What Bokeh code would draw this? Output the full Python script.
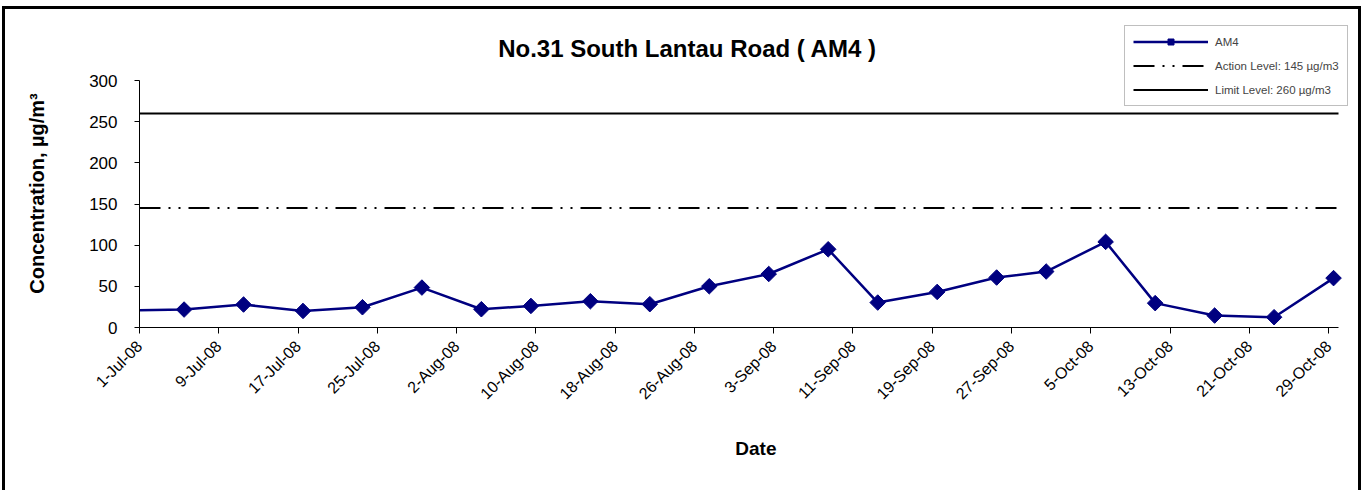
import math
import pandas as pd
from bokeh.plotting import figure
from bokeh.models import (Legend, LegendItem, Label, FixedTicker, Range1d,
                          ColumnDataSource)
from bokeh.embed import file_html
from bokeh.resources import INLINE

# ---------------- data ----------------
title_text = "No.31 South Lantau Road ( AM4 )"
y_label = "Concentration, µg/m³"
x_label = "Date"

sample_dates = ["29-Jun-08", "5-Jul-08", "11-Jul-08", "17-Jul-08", "23-Jul-08",
                "29-Jul-08", "4-Aug-08", "9-Aug-08", "15-Aug-08", "21-Aug-08",
                "27-Aug-08", "2-Sep-08", "8-Sep-08", "13-Sep-08", "19-Sep-08",
                "25-Sep-08", "30-Sep-08", "6-Oct-08", "11-Oct-08", "17-Oct-08",
                "23-Oct-08", "29-Oct-08"]
am4_values = [20.7, 21.8, 27.9, 20.1, 24.6, 48.5, 22.2, 26.2, 31.9, 28.3,
              50.1, 65.0, 95.0, 30.3, 43.2, 60.7, 68.0, 104.0, 29.6, 14.5,
              12.5, 60.0]

action_level = 145
limit_level = 260
series_names = ["AM4", "Action Level: 145 µg/m3", "Limit Level: 260 µg/m3"]

axis_start = "1-Jul-08"
axis_end = "30-Oct-08"
tick_labels = ["1-Jul-08", "9-Jul-08", "17-Jul-08", "25-Jul-08", "2-Aug-08",
               "10-Aug-08", "18-Aug-08", "26-Aug-08", "3-Sep-08", "11-Sep-08",
               "19-Sep-08", "27-Sep-08", "5-Oct-08", "13-Oct-08", "21-Oct-08",
               "29-Oct-08"]
y_ticks = [0, 50, 100, 150, 200, 250, 300]
y_max = 300

# ---------------- helpers ----------------
FMT = "%d-%b-%y"
t0 = pd.to_datetime(axis_start, format=FMT)


def day_of(s):
    return float((pd.to_datetime(s, format=FMT) - t0).days)


x_end = day_of(axis_end)
# points are plotted in the middle of their day (Excel date axis)
xs = [day_of(d) + 0.5 for d in sample_dates]
tick_pos = [day_of(d) for d in tick_labels]

FONT = "Liberation Sans"
NAVY = "#000080"
NBSP = "\u00a0"

# ---------------- layout (pixels) ----------------
W, H = 1366, 490
AX_L, AX_R = 139, 1338      # drawn x-axis extent
AX_T, AX_B = 80, 327        # drawn y-axis extent
FR_T, FR_R = 20, 1356       # frame extends further so the legend/title fit
x_max = x_end * (FR_R - AX_L) / (AX_R - AX_L)
y_top = y_max * (AX_B - FR_T) / (AX_B - AX_T)

p = figure(width=W, height=H, output_backend="svg", toolbar_location=None,
           x_range=Range1d(0, x_max), y_range=Range1d(0, y_top),
           min_border_left=AX_L, min_border_right=W - FR_R,
           min_border_top=FR_T, min_border_bottom=H - AX_B,
           background_fill_color="white", border_fill_color=None)
p.title.visible = False
p.outline_line_color = None
p.xgrid.visible = False
p.ygrid.visible = False
# outer chart border: top, left and right edges (bottom lies below the window)
p.styles = {"box-shadow": ", ".join([
    "inset 0 6px 0 0 white", "inset 2px 0 0 0 white", "inset -5px 0 0 0 white",
    "inset 0 9px 0 0 black", "inset 5px 0 0 0 black", "inset -8px 0 0 0 black"])}

# axes
p.xaxis.ticker = FixedTicker(ticks=tick_pos)
p.xaxis.bounds = (0, x_end)
p.xaxis.major_label_overrides = {t: lab for t, lab in zip(tick_pos, tick_labels)}
p.xaxis.major_label_orientation = math.pi / 4
p.xaxis.major_label_text_font = FONT
p.xaxis.major_label_text_font_size = "16px"
p.xaxis.major_label_text_color = "black"
p.xaxis.major_label_standoff = 10
p.xaxis.major_tick_in = 0
p.xaxis.major_tick_out = 6
p.xaxis.minor_tick_line_color = None
p.xaxis.axis_line_color = "black"
p.xaxis.major_tick_line_color = "black"
p.xaxis.axis_label = NBSP * 3 + x_label
p.xaxis.axis_label_text_font = FONT
p.xaxis.axis_label_text_font_style = "bold"
p.xaxis.axis_label_text_font_size = "19px"
p.xaxis.axis_label_text_color = "black"
p.xaxis.axis_label_standoff = 27

p.yaxis.ticker = FixedTicker(ticks=y_ticks)
p.yaxis.bounds = (0, y_max)
p.yaxis.major_label_text_font = FONT
p.yaxis.major_label_text_font_size = "17px"
p.yaxis.major_label_text_color = "black"
p.yaxis.major_label_standoff = 17
p.yaxis.major_tick_in = 0
p.yaxis.major_tick_out = 5
p.yaxis.minor_tick_line_color = None
p.yaxis.axis_line_color = "black"
p.yaxis.major_tick_line_color = "black"
p.yaxis.axis_label = y_label + NBSP * 7
p.yaxis.axis_label_text_font = FONT
p.yaxis.axis_label_text_font_style = "bold"
p.yaxis.axis_label_text_font_size = "20px"
p.yaxis.axis_label_text_color = "black"
p.yaxis.axis_label_standoff = 38

# series
src = ColumnDataSource(dict(x=xs, y=am4_values))
r_action = p.line([0, x_end], [action_level, action_level], line_color="black",
                  line_width=2, line_dash="21 8 2 8 2 8")
r_limit = p.line([0, x_end], [limit_level, limit_level], line_color="black",
                 line_width=2)
r_line = p.line("x", "y", source=src, line_color=NAVY, line_width=2.5)
r_pts = p.scatter("x", "y", source=src, marker="square", angle=math.pi / 4,
                  size=11, fill_color=NAVY, line_color=NAVY)

legend = Legend(items=[LegendItem(label=series_names[0], renderers=[r_line, r_pts]),
                       LegendItem(label=series_names[1], renderers=[r_action]),
                       LegendItem(label=series_names[2], renderers=[r_limit])],
                location=(985, 221), orientation="vertical",
                label_text_font=FONT, label_text_font_size="11.5px",
                glyph_width=75, glyph_height=15, label_height=15,
                label_standoff=7, spacing=9, padding=8, margin=0,
                border_line_color="#808080", border_line_width=1,
                background_fill_color="white", background_fill_alpha=1)
p.add_layout(legend)

# title (frame-relative screen units: x from frame left, y from frame bottom)
p.add_layout(Label(x=687 - AX_L, y=AX_B - 48, x_units="screen", y_units="screen",
                   text=title_text, text_font=FONT, text_font_style="bold",
                   text_font_size="24px", text_align="center",
                   text_baseline="middle", text_color="black"))

open("out.html", "w").write(file_html(p, INLINE))
